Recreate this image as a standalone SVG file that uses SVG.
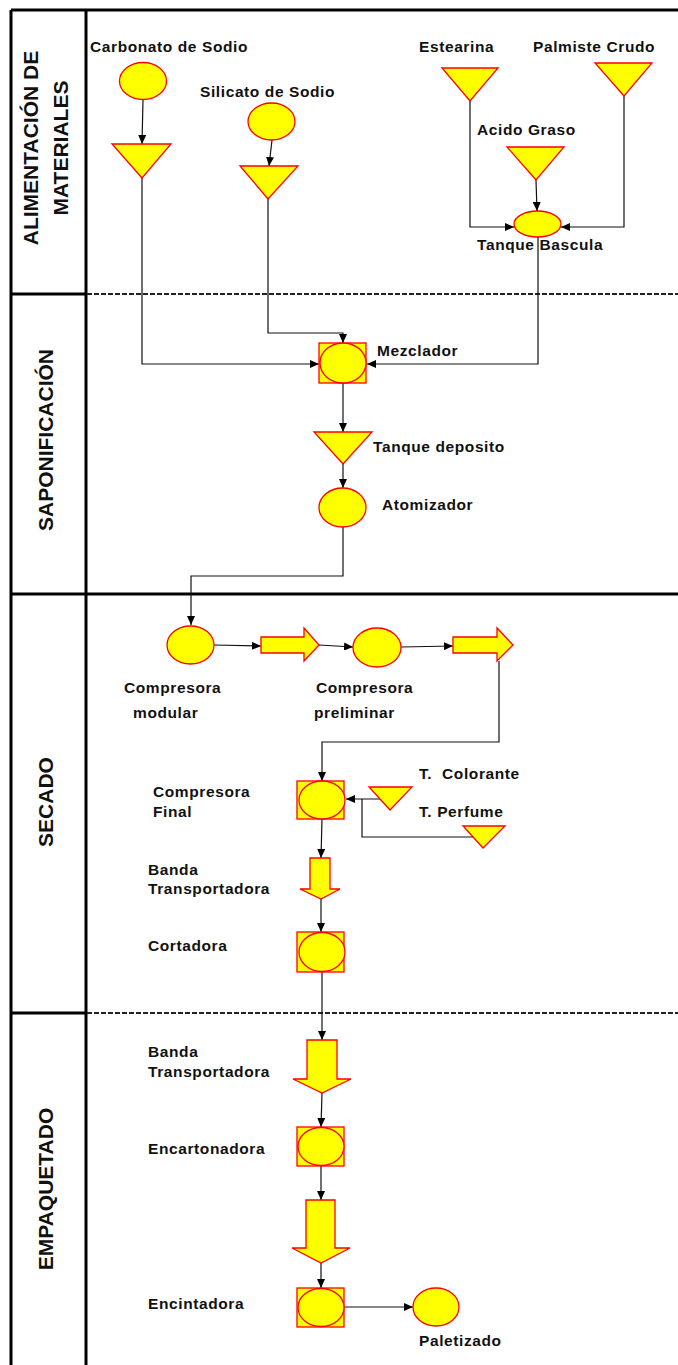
<svg xmlns="http://www.w3.org/2000/svg" width="678" height="1365" viewBox="0 0 678 1365">
  <style>
    .lbl { font-family: "Liberation Sans", Arial, sans-serif; font-weight: bold; font-size: 15.5px; letter-spacing: 0.6px; fill: #111; }
    .lane { font-family: "Liberation Sans", Arial, sans-serif; font-weight: bold; font-size: 21px; fill: #111; text-anchor: middle; }
    .shape { fill: #ffff00; stroke: #ff0000; stroke-width: 1.3; }
    .frame { stroke: #000; stroke-width: 3; fill: none; }
    .dash { stroke: #222; stroke-width: 2; stroke-dasharray: 5 2; fill: none; }
    .wire { stroke: #111; stroke-width: 1.2; fill: none; }
  </style>
  <defs>
    <marker id="arr" markerWidth="9" markerHeight="8" refX="9" refY="4" orient="auto" markerUnits="userSpaceOnUse">
      <path d="M0,0 L9,4 L0,8 Z" fill="#000"/>
    </marker>
  </defs>

  <rect width="678" height="1365" fill="#fff"/>

  <!-- swimlane frame -->
  <g id="lanes">
    <line class="frame" x1="11" y1="10" x2="678" y2="10"/>
    <line class="frame" x1="11" y1="10" x2="11" y2="1365"/>
    <line class="frame" x1="86" y1="10" x2="86" y2="1365"/>
    <line class="frame" x1="11" y1="294" x2="86" y2="294"/>
    <line class="dash" x1="87" y1="294" x2="678" y2="294"/>
    <line class="frame" x1="11" y1="594" x2="678" y2="594"/>
    <line class="frame" x1="11" y1="1013" x2="86" y2="1013"/>
    <line class="dash" x1="87" y1="1013" x2="678" y2="1013"/>
    <text class="lane" transform="rotate(-90 38 148)" x="38" y="148">ALIMENTACIÓN DE</text>
    <text class="lane" transform="rotate(-90 68 148)" x="68" y="148">MATERIALES</text>
    <text class="lane" transform="rotate(-90 53 440)" x="53" y="440">SAPONIFICACIÓN</text>
    <text class="lane" transform="rotate(-90 53 802)" x="53" y="802">SECADO</text>
    <text class="lane" transform="rotate(-90 53 1189)" x="53" y="1189">EMPAQUETADO</text>
  </g>

  <!-- connectors -->
  <g id="connectors">
    <line class="wire" x1="143" y1="100" x2="142" y2="144" marker-end="url(#arr)"/>
    <line class="wire" x1="272" y1="140" x2="269" y2="166" marker-end="url(#arr)"/>
    <line class="wire" x1="536" y1="180" x2="537" y2="211" marker-end="url(#arr)"/>
    <polyline class="wire" points="470,101 470,227 514,227" marker-end="url(#arr)"/>
    <polyline class="wire" points="624,96 624,227 561,227" marker-end="url(#arr)"/>
    <polyline class="wire" points="142,178 142,364 319,364" marker-end="url(#arr)"/>
    <polyline class="wire" points="268,199 268,333 343,333 343,343" marker-end="url(#arr)"/>
    <polyline class="wire" points="538,237 538,364 367,364" marker-end="url(#arr)"/>
    <line class="wire" x1="343" y1="383" x2="343" y2="432" marker-end="url(#arr)"/>
    <line class="wire" x1="343" y1="464" x2="343" y2="488" marker-end="url(#arr)"/>
    <polyline class="wire" points="343,527 343,576 191,576 191,625" marker-end="url(#arr)"/>
    <line class="wire" x1="214" y1="645" x2="261" y2="646" marker-end="url(#arr)"/>
    <line class="wire" x1="319" y1="645" x2="353" y2="647" marker-end="url(#arr)"/>
    <line class="wire" x1="401" y1="647" x2="453" y2="646" marker-end="url(#arr)"/>
    <polyline class="wire" points="499,661 499,742 322,742 322,781" marker-end="url(#arr)"/>
    <line class="wire" x1="380" y1="799" x2="346" y2="799" marker-end="url(#arr)"/>
    <polyline class="wire" points="475,837 362,837 362,799"/>
    <line class="wire" x1="322" y1="819" x2="321" y2="858" marker-end="url(#arr)"/>
    <line class="wire" x1="321" y1="899" x2="321" y2="932" marker-end="url(#arr)"/>
    <line class="wire" x1="322" y1="972" x2="322" y2="1040" marker-end="url(#arr)"/>
    <line class="wire" x1="322" y1="1093" x2="321" y2="1127" marker-end="url(#arr)"/>
    <line class="wire" x1="321" y1="1166" x2="321" y2="1200" marker-end="url(#arr)"/>
    <line class="wire" x1="321" y1="1263" x2="321" y2="1288" marker-end="url(#arr)"/>
    <line class="wire" x1="344" y1="1307" x2="413" y2="1307" marker-end="url(#arr)"/>
  </g>

  <!-- materials feed -->
  <g id="carbonato">
    <ellipse class="shape" cx="143" cy="81" rx="23.5" ry="18.5"/>
    <text class="lbl" x="90" y="52">Carbonato de Sodio</text>
  </g>
  <g id="tolva-carbonato">
    <polygon class="shape" points="112,144 171,144 142,178"/>
  </g>
  <g id="silicato">
    <ellipse class="shape" cx="271.5" cy="121.5" rx="23.5" ry="18.5"/>
    <text class="lbl" x="200" y="97">Silicato de Sodio</text>
  </g>
  <g id="tolva-silicato">
    <polygon class="shape" points="240,166 298,166 268,199"/>
  </g>
  <g id="estearina">
    <polygon class="shape" points="442,68 498,68 470,101"/>
    <text class="lbl" x="419" y="52">Estearina</text>
  </g>
  <g id="palmiste">
    <polygon class="shape" points="595,63 652,63 624,96"/>
    <text class="lbl" x="533" y="52">Palmiste Crudo</text>
  </g>
  <g id="acido-graso">
    <polygon class="shape" points="507,147 564,147 536,180"/>
    <text class="lbl" x="477" y="135">Acido Graso</text>
  </g>
  <g id="tanque-bascula">
    <ellipse class="shape" cx="537.5" cy="224" rx="23.5" ry="13"/>
    <text class="lbl" x="477" y="250">Tanque Bascula</text>
  </g>

  <!-- saponification -->
  <g id="mezclador">
    <rect class="shape" x="319" y="343" width="47" height="40"/>
    <ellipse class="shape" cx="343" cy="363" rx="23" ry="20"/>
    <text class="lbl" x="377" y="356">Mezclador</text>
  </g>
  <g id="tanque-deposito">
    <polygon class="shape" points="314,432 372,432 343,464"/>
    <text class="lbl" x="373" y="452">Tanque deposito</text>
  </g>
  <g id="atomizador">
    <ellipse class="shape" cx="342.5" cy="507.5" rx="23.5" ry="19.5"/>
    <text class="lbl" x="382" y="510">Atomizador</text>
  </g>

  <!-- drying -->
  <g id="compresora-modular">
    <ellipse class="shape" cx="190.5" cy="645" rx="23.5" ry="19"/>
    <text class="lbl" x="124" y="693">Compresora</text>
    <text class="lbl" x="133" y="718">modular</text>
  </g>
  <g id="transporte-1">
    <polygon class="shape" points="261,637 304,637 304,628 319,645 304,661 304,653 261,653"/>
  </g>
  <g id="compresora-preliminar">
    <ellipse class="shape" cx="377" cy="647.5" rx="24" ry="19.5"/>
    <text class="lbl" x="316" y="693">Compresora</text>
    <text class="lbl" x="314" y="718">preliminar</text>
  </g>
  <g id="transporte-2">
    <polygon class="shape" points="453,637 497,637 497,628 513,645 497,661 497,653 453,653"/>
  </g>
  <g id="compresora-final">
    <rect class="shape" x="297" y="781" width="47" height="38"/>
    <ellipse class="shape" cx="322" cy="800" rx="23" ry="19"/>
    <text class="lbl" x="153" y="797">Compresora</text>
    <text class="lbl" x="153" y="817">Final</text>
  </g>
  <g id="t-colorante">
    <polygon class="shape" points="369,787 412,787 390,810"/>
    <text class="lbl" x="419" y="779" xml:space="preserve">T.  Colorante</text>
  </g>
  <g id="t-perfume">
    <polygon class="shape" points="463,826 505,826 483,848"/>
    <text class="lbl" x="419" y="817">T. Perfume</text>
  </g>
  <g id="banda-secado">
    <polygon class="shape" points="310,858 330,858 330,889 340,889 321,899 300,889 310,889"/>
    <text class="lbl" x="148" y="875">Banda</text>
    <text class="lbl" x="148" y="894">Transportadora</text>
  </g>
  <g id="cortadora">
    <rect class="shape" x="297" y="932" width="47" height="40"/>
    <ellipse class="shape" cx="322" cy="952" rx="23" ry="19.5"/>
    <text class="lbl" x="148" y="951">Cortadora</text>
  </g>

  <!-- packing -->
  <g id="banda-empaque">
    <polygon class="shape" points="307,1040 337,1040 337,1079 351,1079 322,1093 293,1079 307,1079"/>
    <text class="lbl" x="148" y="1057">Banda</text>
    <text class="lbl" x="148" y="1077">Transportadora</text>
  </g>
  <g id="encartonadora">
    <rect class="shape" x="297" y="1127" width="47" height="39"/>
    <ellipse class="shape" cx="321" cy="1146.5" rx="23" ry="19"/>
    <text class="lbl" x="148" y="1154">Encartonadora</text>
  </g>
  <g id="transporte-3">
    <polygon class="shape" points="306,1200 335,1200 335,1248 350,1248 321,1263 292,1248 306,1248"/>
  </g>
  <g id="encintadora">
    <rect class="shape" x="297" y="1288" width="47" height="39"/>
    <ellipse class="shape" cx="321" cy="1307.5" rx="23" ry="19"/>
    <text class="lbl" x="148" y="1309">Encintadora</text>
  </g>
  <g id="paletizado">
    <ellipse class="shape" cx="436" cy="1307" rx="23" ry="19"/>
    <text class="lbl" x="419" y="1346">Paletizado</text>
  </g>
</svg>
